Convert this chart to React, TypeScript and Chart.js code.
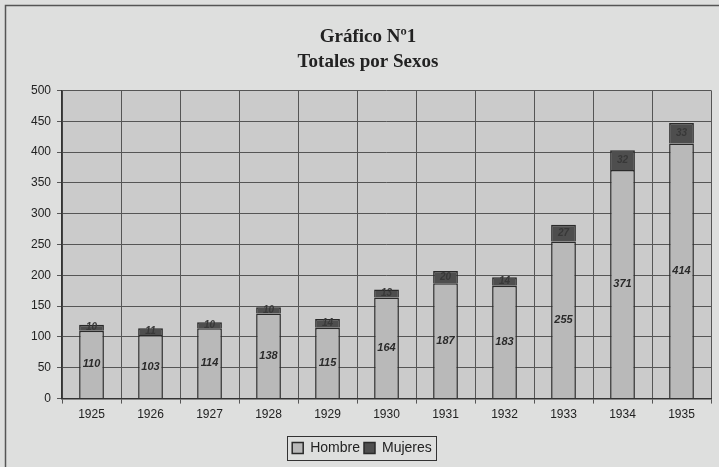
import React, { useEffect, useRef } from "react";
import { Chart, registerables } from "chart.js";

Chart.register(...registerables);

const years = ["1925", "1926", "1927", "1928", "1929", "1930", "1931", "1932", "1933", "1934", "1935"];
const hombre = [110, 103, 114, 138, 115, 164, 187, 183, 255, 371, 414];
const mujeres = [10, 11, 10, 10, 14, 13, 20, 14, 27, 32, 33];
const yTicks = [0, 50, 100, 150, 200, 250, 300, 350, 400, 450, 500];
const LEGEND_SHIFT = 6;

const bgPlugin = {
  id: "bgPlugin",
  afterLayout(chart: any) {
    const lg = chart.legend;
    if (lg) {
      lg.left -= LEGEND_SHIFT;
      lg.right -= LEGEND_SHIFT;
    }
  },
  beforeDraw(chart: any) {
    const { ctx, chartArea } = chart;
    ctx.save();
    ctx.fillStyle = "#dedfde";
    ctx.fillRect(0, 0, chart.width, chart.height);
    ctx.fillStyle = "#cbcbcb";
    ctx.fillRect(chartArea.left, chartArea.top, chartArea.right - chartArea.left, chartArea.bottom - chartArea.top);
    ctx.strokeStyle = "#555";
    ctx.lineWidth = 1.5;
    ctx.beginPath();
    ctx.moveTo(5.5, chart.height + 5);
    ctx.lineTo(5.5, 5.5);
    ctx.lineTo(chart.width + 5, 5.5);
    ctx.stroke();
    ctx.restore();
  },
  afterDraw(chart: any) {
    const { ctx } = chart;
    ctx.save();
    ctx.textAlign = "center";
    ctx.textBaseline = "middle";
    chart.data.datasets.forEach((ds: any, di: number) => {
      const meta = chart.getDatasetMeta(di);
      meta.data.forEach((bar: any, i: number) => {
        const v = ds.data[i];
        const y = (bar.y + bar.base) / 2;
        if (di === 0) {
          ctx.font = "italic bold 11px Arial, 'Liberation Sans', sans-serif";
          ctx.fillStyle = "#2a2a2a";
        } else {
          ctx.font = "italic bold 10px Arial, 'Liberation Sans', sans-serif";
          ctx.fillStyle = "#383838";
        }
        ctx.fillText(String(v), bar.x, y);
      });
    });
    const lg = chart.legend;
    if (lg && lg.legendHitBoxes && lg.legendHitBoxes.length) {
      const boxes = lg.legendHitBoxes;
      const last = boxes[boxes.length - 1];
      const x0 = boxes[0].left - 5;
      const x1 = last.left + last.width + 4;
      const y0 = boxes[0].top - 5;
      const y1 = boxes[0].top + boxes[0].height + 5;
      if (isFinite(x0) && isFinite(x1) && isFinite(y0) && isFinite(y1)) {
        ctx.strokeStyle = "#333";
        ctx.lineWidth = 1;
        ctx.strokeRect(Math.round(x0) + 0.5, Math.round(y0) + 0.5, Math.round(x1 - x0), Math.round(y1 - y0));
      }
    }
    ctx.restore();
  },
};

export default function App() {
  const ref = useRef<HTMLCanvasElement>(null);
  useEffect(() => {
    document.body.style.margin = "0";
    const chart = new Chart(ref.current!, {
      type: "bar",
      data: {
        labels: years,
        datasets: [
          {
            label: "Hombre",
            data: hombre,
            backgroundColor: "#b9b9b9",
            borderColor: "#2a2a2a",
            borderWidth: 1.5,
            barPercentage: 0.42,
            categoryPercentage: 1,
          },
          {
            label: "Mujeres",
            data: mujeres,
            backgroundColor: "#4e4e4e",
            borderColor: "#2a2a2a",
            borderWidth: 1.5,
            barPercentage: 0.42,
            categoryPercentage: 1,
          },
        ],
      },
      options: {
        animation: false,
        responsive: true,
        maintainAspectRatio: false,
        layout: { padding: { left: 25, right: 8, top: 14, bottom: 2 } },
        plugins: {
          title: {
            display: true,
            text: ["Gráfico Nº1", "Totales por Sexos"],
            color: "#222",
            font: { family: "'Times New Roman', 'Liberation Serif', serif", size: 19, weight: "bold", lineHeight: 1.3 },
            padding: { top: 11, bottom: 16 },
          },
          legend: {
            position: "bottom",
            labels: {
              color: "#222",
              font: { family: "Arial, 'Liberation Sans', sans-serif", size: 14 },
              boxWidth: 11,
              boxHeight: 11,
              padding: 4,
              useBorderRadius: false,
            },
          },
          tooltip: { enabled: false },
        },
        scales: {
          x: {
            stacked: true,
            grid: { color: "#555", lineWidth: 1, offset: true, tickLength: 5, drawTicks: true },
            border: { color: "#333", width: 1.5 },
            ticks: { color: "#222", font: { family: "Arial, 'Liberation Sans', sans-serif", size: 12 }, padding: 4 },
            afterFit(scale: any) {
              scale.height += 11;
            },
          },
          y: {
            stacked: true,
            min: yTicks[0],
            max: yTicks[yTicks.length - 1],
            grid: { color: "#555", lineWidth: 1, tickLength: 5 },
            border: { color: "#333", width: 1.5 },
            ticks: { stepSize: 50, color: "#222", font: { family: "Arial, 'Liberation Sans', sans-serif", size: 12 }, padding: 6 },
          },
        },
      },
      plugins: [bgPlugin],
    });
    return () => chart.destroy();
  }, []);
  return (
    <div style={{ width: 719, height: 467, position: "relative" }}>
      <canvas ref={ref} />
    </div>
  );
}
